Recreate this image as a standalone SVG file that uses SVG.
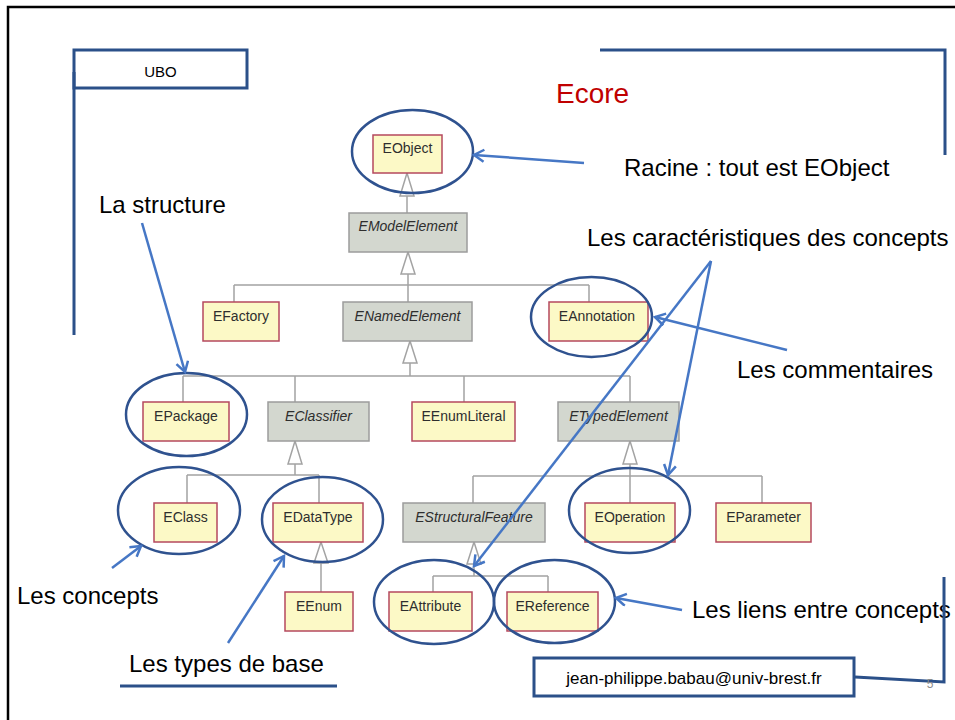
<svg xmlns="http://www.w3.org/2000/svg" width="955" height="720" viewBox="0 0 955 720">
<style>
.frame{fill:none;stroke:#2b5089;stroke-width:3}
.lbl{font-family:"Liberation Sans",Arial,sans-serif;font-size:24px;fill:#000}
.cls{stroke:#b5485e;stroke-width:1.5;fill:#fcf9c6}
.abs{stroke:#9c9c9c;stroke-width:1.5;fill:#d3d7cf}
.ct{font-family:"Liberation Sans",Arial,sans-serif;font-size:14px;fill:#2e2e2e;text-anchor:middle}
.it{font-style:italic}
.uml{stroke:#a3a3a3;stroke-width:1.5;fill:none}
.tri{stroke:#a3a3a3;stroke-width:1.5;fill:#fff}
.ell{fill:none;stroke:#2f528f;stroke-width:2.5}
.arr{stroke:#4677c5;stroke-width:2.5;fill:none;marker-end:url(#ah)}
</style>
<defs>
<marker id="ah" markerUnits="userSpaceOnUse" markerWidth="16" markerHeight="16" refX="12" refY="7" orient="auto">
<path d="M2,1 L12,7 L2,13" fill="none" stroke="#4677c5" stroke-width="2.5"/>
</marker>
</defs>
<rect width="955" height="720" fill="#fff"/>
<rect x="8" y="7" width="970" height="730" fill="none" stroke="#000" stroke-width="2.5"/>

<g id="ubo">
<rect x="74" y="50" width="173" height="38" class="frame" fill="#fff"/>
<line x1="74" y1="72" x2="74" y2="335" class="frame"/>
<text x="160.5" y="77" font-family="'Liberation Sans',Arial,sans-serif" font-size="15" text-anchor="middle">UBO</text>
</g>
<g id="topbracket">
<polyline points="600,50 945,50 945,155" class="frame"/>
</g>
<text id="title" x="556" y="103" font-family="'Liberation Sans',Arial,sans-serif" font-size="28" fill="#c00000">Ecore</text>

<g id="connectors">
<!-- inheritance lines -->
<path class="uml" d="M407,196 V213"/>
<path class="uml" d="M408,274 V285 M234,285 H589 M234,285 V302 M408,285 V302 M589,285 V302"/>
<path class="uml" d="M410,363 V376 M183,376 H630 M183,376 V402 M295,376 V402 M464,376 V402 M630,376 V402"/>
<path class="uml" d="M295,464 V475 M187,475 H319 M187,475 V503 M319,475 V503"/>
<path class="uml" d="M321,563 V592"/>
<path class="uml" d="M630,464 V476 M473,476 H762 M473,476 V503 M630,476 V503 M762,476 V503"/>
<path class="uml" d="M474,564 V576 M433,576 H548 M433,576 V592 M548,576 V592"/>
<!-- triangles -->
<polygon class="tri" points="407,173 400,196 414,196"/>
<polygon class="tri" points="408,252 401,274 415,274"/>
<polygon class="tri" points="410,341 403,363 417,363"/>
<polygon class="tri" points="295,441 288,464 302,464"/>
<polygon class="tri" points="321,542 314,563 328,563"/>
<polygon class="tri" points="630,441 623,464 637,464"/>
<polygon class="tri" points="474,542 467,564 481,564"/>
</g>

<g id="EObject"><rect class="cls" x="373" y="135" width="69" height="38"/><text class="ct" x="407.5" y="153">EObject</text></g>
<g id="EModelElement"><rect class="abs" x="349" y="213" width="118" height="39"/><text class="ct it" x="408" y="231">EModelElement</text></g>
<g id="EFactory"><rect class="cls" x="203" y="302" width="76" height="39"/><text class="ct" x="241" y="320.5">EFactory</text></g>
<g id="ENamedElement"><rect class="abs" x="343" y="302" width="129" height="39"/><text class="ct it" x="407.5" y="320.5">ENamedElement</text></g>
<g id="EAnnotation"><rect class="cls" x="549" y="302" width="99" height="39"/><text class="ct" x="597" y="320.5">EAnnotation</text></g>
<g id="EPackage"><rect class="cls" x="143" y="402" width="86" height="39"/><text class="ct" x="186" y="420.5">EPackage</text></g>
<g id="EClassifier"><rect class="abs" x="268" y="402" width="101" height="39"/><text class="ct it" x="318.5" y="420.5">EClassifier</text></g>
<g id="EEnumLiteral"><rect class="cls" x="412" y="402" width="103" height="39"/><text class="ct" x="463.5" y="420.5">EEnumLiteral</text></g>
<g id="ETypedElement"><rect class="abs" x="558" y="402" width="121" height="39"/><text class="ct it" x="618.5" y="420.5">ETypedElement</text></g>
<g id="EClass"><rect class="cls" x="154" y="503" width="63" height="39"/><text class="ct" x="185.5" y="521.5">EClass</text></g>
<g id="EDataType"><rect class="cls" x="273" y="503" width="90" height="39"/><text class="ct" x="318" y="521.5">EDataType</text></g>
<g id="EEnum"><rect class="cls" x="285" y="592" width="68" height="39"/><text class="ct" x="319" y="610.5">EEnum</text></g>
<g id="EStructuralFeature"><rect class="abs" x="403" y="503" width="142" height="39"/><text class="ct it" x="474" y="521.5">EStructuralFeature</text></g>
<g id="EOperation"><rect class="cls" x="585" y="503" width="90" height="39"/><text class="ct" x="630" y="521.5">EOperation</text></g>
<g id="EParameter"><rect class="cls" x="716" y="503" width="95" height="39"/><text class="ct" x="763.5" y="521.5">EParameter</text></g>
<g id="EAttribute"><rect class="cls" x="389" y="592" width="83" height="39"/><text class="ct" x="430.5" y="610.5">EAttribute</text></g>
<g id="EReference"><rect class="cls" x="507" y="592" width="91" height="39"/><text class="ct" x="552.5" y="610.5">EReference</text></g>

<g id="highlights">
<ellipse class="ell" cx="412.5" cy="151.5" rx="60.5" ry="41.5"/>
<ellipse class="ell" cx="591.5" cy="317" rx="60.5" ry="40"/>
<ellipse class="ell" cx="186.5" cy="414.5" rx="60.5" ry="41.5"/>
<ellipse class="ell" cx="179" cy="510.5" rx="61" ry="43.5"/>
<ellipse class="ell" cx="322.5" cy="519.5" rx="60.5" ry="42.5"/>
<ellipse class="ell" cx="629.5" cy="510.5" rx="60.5" ry="42.5"/>
<ellipse class="ell" cx="434" cy="602" rx="60" ry="42"/>
<ellipse class="ell" cx="554.5" cy="601.5" rx="60.5" ry="41.5"/>
</g>

<g id="annotation-arrows">
<line class="arr" x1="584" y1="163" x2="474" y2="155"/>
<line class="arr" x1="142" y1="223" x2="185" y2="372"/>
<line class="arr" x1="787" y1="350" x2="655" y2="317"/>
<line class="arr" x1="711" y1="261" x2="668" y2="475"/>
<line class="arr" x1="711" y1="261" x2="474" y2="566"/>
<line class="arr" x1="112" y1="568" x2="141" y2="546"/>
<line class="arr" x1="228" y1="643" x2="284" y2="556"/>
<line class="arr" x1="682" y1="610" x2="616" y2="598"/>
</g>

<g id="labels">
<text class="lbl" x="624" y="176">Racine : tout est EObject</text>
<text class="lbl" x="99" y="213">La structure</text>
<text class="lbl" x="587" y="246">Les caractéristiques des concepts</text>
<text class="lbl" x="737" y="378">Les commentaires</text>
<text class="lbl" x="17" y="604">Les concepts</text>
<text class="lbl" x="129" y="672">Les types de base</text>
<text class="lbl" x="692" y="618">Les liens entre concepts</text>
</g>
<line x1="120" y1="686" x2="337" y2="686" class="frame"/>

<g id="footer">
<polyline points="944,577 944,682 855,677" class="frame"/>
<rect x="534" y="658" width="320" height="38" class="frame" fill="#fff"/>
<text x="694" y="684" font-family="'Liberation Sans',Arial,sans-serif" font-size="17" text-anchor="middle">jean-philippe.babau@univ-brest.fr</text>
<text x="930" y="688" font-family="'Liberation Sans',Arial,sans-serif" font-size="12" fill="#8c8c8c" text-anchor="middle">5</text>
</g>
</svg>
